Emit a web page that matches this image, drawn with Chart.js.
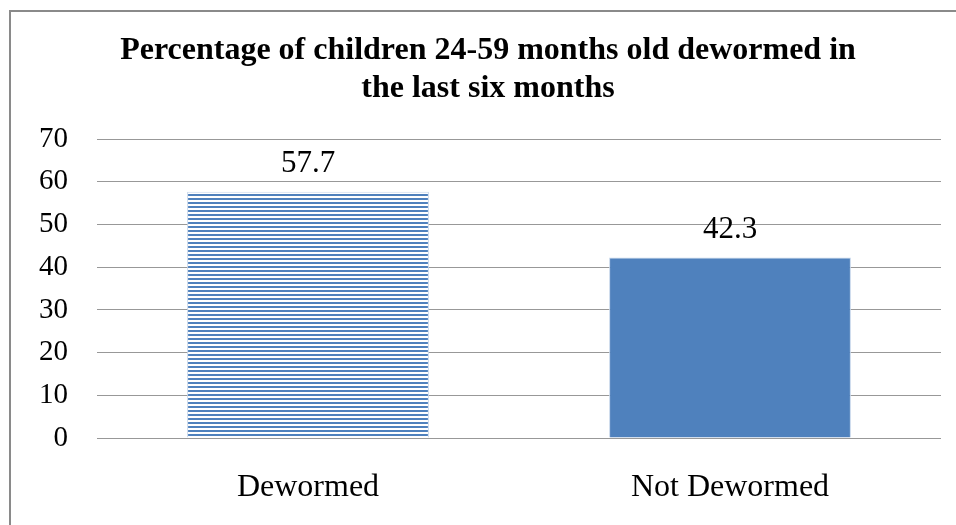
<!DOCTYPE html>
<html>
<head>
<meta charset="utf-8">
<script src="https://cdn.jsdelivr.net/npm/chart.js@4.4.1/dist/chart.umd.min.js"></script>
<style>
  html, body { margin: 0; padding: 0; background: #fff; }
  #wrap { position: relative; width: 956px; height: 525px; overflow: hidden; }
  #frame { position: absolute; left: 9px; top: 10px; width: 960px; height: 530px;
           border-top: 2px solid #8a8a8a; border-left: 2px solid #8a8a8a; pointer-events: none; }
</style>
</head>
<body>
<div id="wrap">
  <canvas id="grafico" width="956" height="525"></canvas>
  <div id="frame"></div>
</div>
<script>
const categorias = ['Dewormed', 'Not Dewormed'];
const valores = [57.7, 42.3];
const titulo = ['Percentage of children 24-59 months old dewormed in', 'the last six months'];

const azul = '#4f81bd';

// listras horizontais da primeira barra
function criaListras(ctx) {
  const c = document.createElement('canvas');
  c.width = 4;
  c.height = 4;
  const p = c.getContext('2d');
  p.fillStyle = '#ffffff';
  p.fillRect(0, 0, 4, 4);
  p.fillStyle = azul;
  p.fillRect(0, 2, 4, 2);
  return ctx.createPattern(c, 'repeat');
}

const rotulosDados = {
  id: 'rotulosDados',
  afterDatasetsDraw(chart) {
    const ctx = chart.ctx;
    const meta = chart.getDatasetMeta(0);
    ctx.save();
    ctx.font = '31px "Liberation Serif"';
    ctx.fillStyle = '#000';
    ctx.textAlign = 'center';
    ctx.textBaseline = 'middle';
    meta.data.forEach((barra, i) => {
      ctx.fillText(valores[i].toFixed(1), barra.x, barra.y - 28);
    });
    ctx.restore();
  }
};

const canvas = document.querySelector('#grafico');
const ctx = canvas.getContext('2d');
const listras = criaListras(ctx);

new Chart(canvas, {
  type: 'bar',
  data: {
    labels: categorias,
    datasets: [{
      data: valores,
      backgroundColor: [listras, azul],
      borderColor: '#c6d6ea',
      borderWidth: 1,
      barPercentage: 1,
      categoryPercentage: 0.573
    }]
  },
  options: {
    responsive: false,
    animation: false,
    layout: { padding: { top: 32, left: 35, right: 15, bottom: 21 } },
    plugins: {
      legend: { display: false },
      tooltip: { enabled: false },
      title: {
        display: true,
        text: titulo,
        color: '#000',
        font: { family: '"Liberation Serif"', size: 32, weight: 'bold', lineHeight: 1.19 },
        padding: { top: 0, bottom: 31 }
      }
    },
    scales: {
      x: {
        grid: { display: false },
        border: { display: false },
        ticks: {
          color: '#000',
          padding: 22,
          maxRotation: 0,
          minRotation: 0,
          autoSkip: false,
          font: { family: '"Liberation Serif"', size: 32 }
        },
        afterFit(scale) { scale.height = 66; }
      },
      y: {
        min: 0,
        max: 70,
        border: { display: false },
        grid: { color: '#989898', lineWidth: 1, drawTicks: false },
        ticks: {
          stepSize: 10,
          autoSkip: false,
          color: '#000',
          padding: 29,
          font: { family: '"Liberation Serif"', size: 29 }
        },
        afterFit(scale) { scale.width = 62; }
      }
    }
  },
  plugins: [rotulosDados]
});
</script>
</body>
</html>
